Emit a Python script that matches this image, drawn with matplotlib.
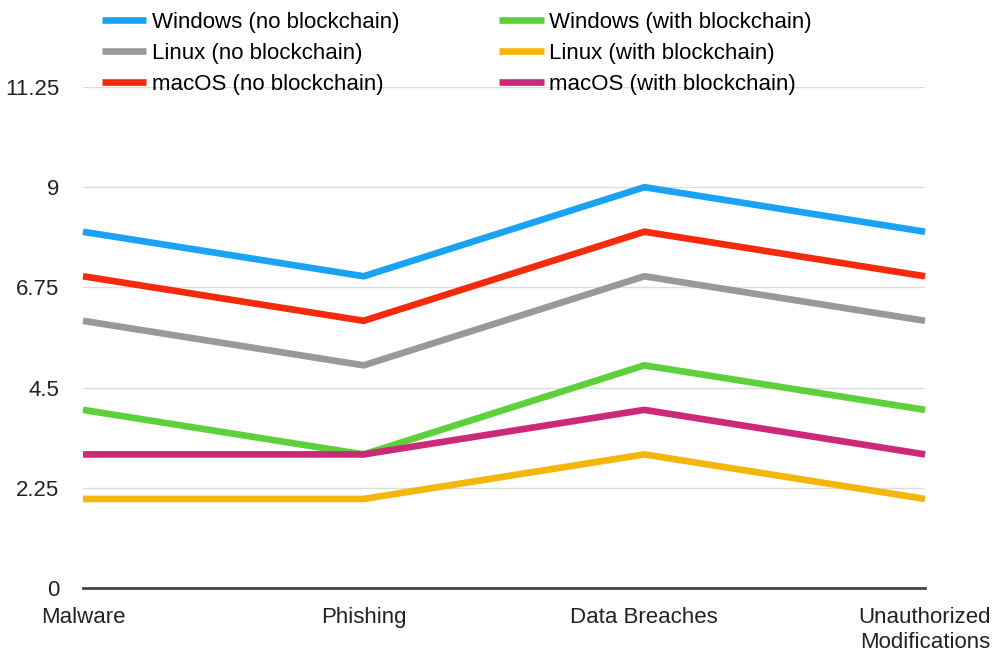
import matplotlib.pyplot as plt

plt.rcParams['font.family'] = ['Liberation Sans', 'DejaVu Sans']

categories = ['Malware', 'Phishing', 'Data Breaches', 'Unauthorized\nModifications']
yticks = [0, 2.25, 4.5, 6.75, 9, 11.25]
ytick_labels = ['0', '2.25', '4.5', '6.75', '9', '11.25']

win_no = [8, 7, 9, 8]
win_with = [4, 3, 5, 4]
linux_no = [6, 5, 7, 6]
linux_with = [2, 2, 3, 2]
mac_no = [7, 6, 8, 7]
mac_with = [3, 3, 4, 3]

series = [
    ('Windows (no blockchain)', win_no, '#1aa3f4'),
    ('Windows (with blockchain)', win_with, '#5cd13c'),
    ('Linux (no blockchain)', linux_no, '#999999'),
    ('Linux (with blockchain)', linux_with, '#f5b60a'),
    ('macOS (no blockchain)', mac_no, '#f52a0c'),
    ('macOS (with blockchain)', mac_with, '#cc2a78'),
]

fig = plt.figure(figsize=(9.97, 6.51), dpi=100)
ax = fig.add_axes([83 / 997, 1 - 588 / 651, (925 - 83) / 997, (588 - 87) / 651])

x = list(range(len(categories)))
handles = {}
for name, vals, col in series:
    ln, = ax.plot(x, vals, color=col, lw=4.8, solid_capstyle='butt', solid_joinstyle='miter', label=name, clip_on=False)
    handles[name] = ln

ax.set_xlim(0, 3)
ax.set_ylim(0, 11.25)
ax.set_yticks(yticks)
ax.set_yticklabels(ytick_labels)
ax.set_xticks(x)
ax.set_xticklabels(categories)
ax.grid(axis='y', color='#dddddd', lw=1)
ax.set_axisbelow(True)
for s in ['top', 'right', 'left']:
    ax.spines[s].set_visible(False)
ax.spines['bottom'].set_color('#444444')
ax.spines['bottom'].set_linewidth(2)
ax.tick_params(length=0, labelsize=16, colors='#222222')
ax.tick_params(axis='y', pad=17)
ax.tick_params(axis='x', pad=14)

order = ['Windows (no blockchain)', 'Linux (no blockchain)', 'macOS (no blockchain)',
         'Windows (with blockchain)', 'Linux (with blockchain)', 'macOS (with blockchain)']
fig.legend([handles[n] for n in order], order, loc='upper left',
           bbox_to_anchor=(86 / 997, 1 + 4 / 651), ncol=2, frameon=False,
           fontsize=16, handlelength=2.0, handletextpad=0.25, labelspacing=0.45,
           borderpad=0.2, columnspacing=4.5)

fig.savefig('out.png', dpi=100, facecolor='white')
